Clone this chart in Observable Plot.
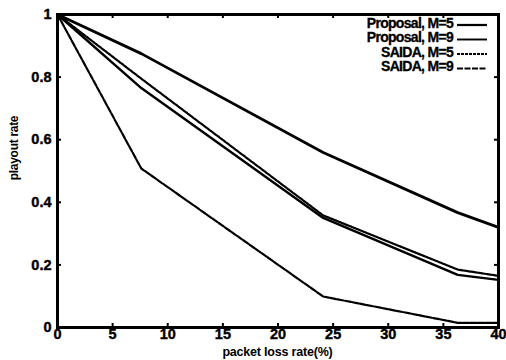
<!DOCTYPE html>
<html>
<head>
<meta charset="utf-8">
<script src="https://cdn.jsdelivr.net/npm/d3@7"></script>
<script src="https://cdn.jsdelivr.net/npm/@observablehq/plot@0.6"></script>
<style>
  html, body { margin: 0; padding: 0; background: #fff; }
  svg { font-family: "Liberation Sans", Arial, sans-serif; }
</style>
</head>
<body>
<div id="chart"></div>
<script>
// Data
const lossRate = [0, 7.6, 24.1, 36.3, 40];
const proposalM5 = [1, 0.875, 0.559, 0.367, 0.32];
const proposalM9 = [1, 0.765, 0.350, 0.168, 0.152];
const saidaM5    = [1, 0.795, 0.358, 0.185, 0.165];
const saidaM9    = [1, 0.508, 0.099, 0.015, 0.015];

const seriesNames = ["Proposal, M=5", "Proposal, M=9", "SAIDA, M=5", "SAIDA, M=9"];
const seriesValues = [proposalM5, proposalM9, saidaM5, saidaM9];
const seriesDash = [null, null, "3,1", "6,1.5"];
const seriesWidth = [2.8, 2.4, 2.2, 2.2];

const xTicks = [0, 5, 10, 15, 20, 25, 30, 35, 40];
const yTicks = [0, 0.2, 0.4, 0.6, 0.8, 1];

const W = 506, H = 360;
const mL = 57, mR = 8, mT = 14, mB = 33;
const fw = W - mL - mR, fh = H - mT - mB;

const series = seriesNames.map((name, i) => lossRate.map((x, j) => ({x, y: seriesValues[i][j], name})));

const lineMarks = series.map((d, i) => Plot.line(d, {
  x: "x", y: "y", stroke: "black", strokeWidth: seriesWidth[i],
  strokeDasharray: seriesDash[i], strokeLinejoin: "round"
}));

const tl = 4;
const chart = Plot.plot({
  width: W, height: H,
  marginLeft: mL, marginRight: mR, marginTop: mT, marginBottom: mB,
  style: {fontFamily: "Liberation Sans, Arial, sans-serif", fontWeight: "bold", color: "black", background: "white"},
  x: {domain: [0, 40]},
  y: {domain: [0, 1]},
  marks: [
    ...lineMarks,
    // inward tick marks on all four sides
    Plot.tickX(xTicks, {x: d => d, insetTop: fh - tl, stroke: "black", strokeWidth: 2}),
    Plot.tickX(xTicks, {x: d => d, insetBottom: fh - tl, stroke: "black", strokeWidth: 2}),
    Plot.tickY(yTicks, {y: d => d, insetRight: fw - tl, stroke: "black", strokeWidth: 2}),
    Plot.tickY(yTicks, {y: d => d, insetLeft: fw - tl, stroke: "black", strokeWidth: 2}),
    Plot.axisX(xTicks, {tickSize: 0, tickPadding: 1, label: null, tickFormat: d => String(d)}),
    Plot.axisY(yTicks, {tickSize: 0, tickPadding: 6, label: null, tickFormat: d => String(d)}),
    Plot.frame({stroke: "black", strokeWidth: 3})
  ]
});

const svg = d3.select(chart);
// enlarge and embolden tick labels
svg.selectAll('g[aria-label="x-axis tick label"], g[aria-label="y-axis tick label"]')
  .style("font-size", "14.5px")
  .style("font-weight", "bold")
  .attr("stroke", "black")
  .attr("stroke-width", 0.4);

// axis titles
svg.append("text")
  .attr("x", mL + fw / 2).attr("y", 353)
  .attr("text-anchor", "middle")
  .attr("dominant-baseline", "middle")
  .style("font-size", "12.5px")
  .attr("font-weight", "bold")
  .attr("letter-spacing", "-0.2")
  .attr("fill", "black")
  .text("packet loss rate(%)");
svg.append("text")
  .attr("transform", `translate(15,148) rotate(-90)`)
  .attr("text-anchor", "middle")
  .attr("dominant-baseline", "middle")
  .style("font-size", "12px")
  .attr("font-weight", "bold")
  .attr("letter-spacing", "-0.3")
  .attr("fill", "black")
  .text("playout rate");

// legend inside top-right
const lg = svg.append("g");
seriesNames.forEach((name, i) => {
  const y = 24 + i * 14.5;
  lg.append("text")
    .attr("x", 453).attr("y", y)
    .attr("text-anchor", "end")
    .attr("dominant-baseline", "middle")
    .style("font-size", "14px")
    .attr("font-weight", "bold")
    .attr("letter-spacing", "-0.7")
    .attr("fill", "black")
    .attr("stroke", "black")
    .attr("stroke-width", 0.3)
    .text(name);
  lg.append("line")
    .attr("x1", 457).attr("x2", 487)
    .attr("y1", y + 1).attr("y2", y + 1)
    .attr("stroke", "black")
    .attr("stroke-width", seriesWidth[i] * 0.8)
    .attr("stroke-dasharray", seriesDash[i]);
});

document.getElementById("chart").appendChild(chart);
</script>
</body>
</html>
